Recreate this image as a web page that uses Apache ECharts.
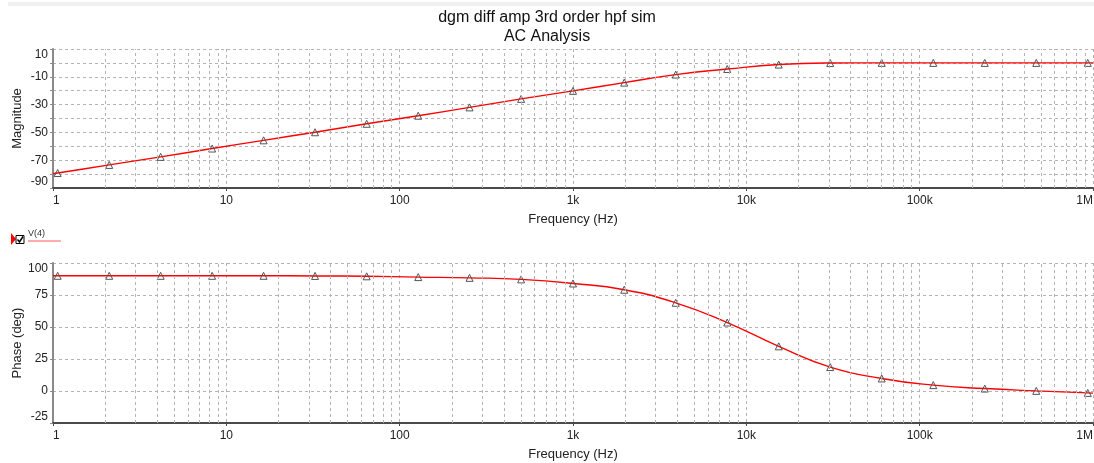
<!DOCTYPE html>
<html>
<head>
<meta charset="utf-8">
<title>dgm diff amp 3rd order hpf sim</title>
<script src="https://cdn.jsdelivr.net/npm/echarts@6/dist/echarts.min.js"></script>
<style>
  html, body { margin: 0; padding: 0; background: #fff; }
  #chart { width: 1094px; height: 463px; }
</style>
</head>
<body>
<div id="chart"></div>
<script>
// sweep points (first and last are the sweep ends, no marker)
var freqs = [1, 1.064, 2.11, 4.18, 8.28, 16.4, 32.5, 64.5, 128, 253, 502, 1000, 1975, 3914,
    7760, 15380, 30480, 60400, 119800, 237400, 470600, 932700, 1000000];
var magnitude = [-79.7, -79.2, -73.4, -67.6, -61.6, -55.7, -49.9, -43.8, -38.0, -32.0, -25.9,
    -20.1, -14.2, -8.4, -4.4, -1.2, -0.1, 0, 0, 0, 0, 0, 0];
var phase = [90, 90, 90, 90, 90, 90, 89.9, 89.6, 89.0, 88.4, 87.2, 84.0, 79.1, 68.9, 53.5,
    34.9, 18.7, 9.8, 4.6, 1.9, 0.1, -1.5, -1.7];

var freqTickLabels = { 1: '1', 10: '10', 100: '100', 1000: '1k', 10000: '10k', 100000: '100k', 1000000: '1M' };
var magTickLabels = [10, -10, -30, -50, -70, -90];
var phaseTickLabels = [100, 75, 50, 25, 0, -25];
var minorFreqs = [];
[1, 10, 100, 1000, 10000, 100000].forEach(function (d) {
    [2, 3, 4, 5, 6, 7, 8, 9].forEach(function (m) { minorFreqs.push(m * d); });
});

var FONT = 'Liberation Sans, Arial, sans-serif';
var gridLine = { show: true, lineStyle: { color: '#b4b4b4', type: [3, 3], width: 1 } };

function curve(values) {
    return freqs.map(function (f, i) {
        var item = { value: [f, values[i]] };
        if (i === 0 || i === freqs.length - 1) item.symbol = 'none';
        return item;
    });
}

function xAxis(idx) {
    return {
        type: 'log', gridIndex: idx, logBase: 10, min: 1, max: 1000000, splitNumber: 6,
        name: 'Frequency (Hz)', nameLocation: 'middle', nameGap: 25, nameMoveOverlap: false,
        nameTextStyle: { fontFamily: FONT, fontSize: 13, color: '#222' },
        axisLine: { onZero: false, lineStyle: { color: '#4a4a4a', width: 2 } },
        axisTick: { show: true, length: 3, lineStyle: { color: '#4a4a4a' } },
        axisLabel: {
            fontFamily: FONT, fontSize: 12, color: '#222', margin: 7,
            alignMinLabel: 'left', alignMaxLabel: 'right',
            formatter: function (v) { return freqTickLabels[Math.round(v)] || ''; }
        },
        splitLine: gridLine
    };
}

function yAxis(idx, name, min, max, step, labels) {
    return {
        type: 'value', gridIndex: idx, min: min, max: max, interval: step,
        name: name, nameLocation: 'middle', nameGap: 29, nameRotate: 90, nameMoveOverlap: false,
        nameTextStyle: { fontFamily: FONT, fontSize: 13, color: '#222' },
        axisLine: { show: true, onZero: false, lineStyle: { color: '#8a8a8a', width: 2 } },
        axisTick: { show: true, length: 3, lineStyle: { color: '#8a8a8a' } },
        axisLabel: {
            fontFamily: FONT, fontSize: 12, color: '#222', margin: 5,
            verticalAlignMaxLabel: 'top', verticalAlignMinLabel: 'bottom',
            formatter: function (v) { return labels.indexOf(v) >= 0 ? String(v) : ''; }
        },
        splitLine: gridLine
    };
}

function traceSeries(idx, values) {
    return {
        type: 'line', xAxisIndex: idx, yAxisIndex: idx, data: curve(values),
        smooth: 0.5, showAllSymbol: true,
        symbol: 'triangle', symbolSize: 7, z: 3,
        lineStyle: { color: '#ff0000', width: 1.4 },
        itemStyle: { color: 'rgba(255,255,255,0)', borderColor: '#555', borderWidth: 1 },
        emphasis: { disabled: true }
    };
}

function minorGridSeries(idx) {
    return {
        type: 'line', xAxisIndex: idx, yAxisIndex: idx, data: [], z: 1, silent: true,
        markLine: {
            silent: true, symbol: 'none', animation: false,
            label: { show: false },
            lineStyle: { color: '#b4b4b4', type: [3, 3], width: 1 },
            emphasis: { disabled: true },
            data: minorFreqs.map(function (f) { return { xAxis: f }; })
        }
    };
}

var chart = echarts.init(document.getElementById('chart'), null, { renderer: 'canvas' });
chart.setOption({
    animation: false,
    backgroundColor: '#fff',
    title: {
        text: 'dgm diff amp 3rd order hpf sim\nAC Analysis',
        left: 'center', top: 3,
        textStyle: { fontFamily: FONT, fontSize: 16, fontWeight: 'normal', color: '#111', lineHeight: 19 }
    },
    grid: [
        { left: 53, right: 1, top: 49, height: 139, outerBoundsMode: 'none' },
        { left: 53, right: 1, top: 263, height: 160, outerBoundsMode: 'none' }
    ],
    xAxis: [xAxis(0), xAxis(1)],
    yAxis: [
        yAxis(0, 'Magnitude', -90, 10, 10, magTickLabels),
        yAxis(1, 'Phase (deg)', -25, 100, 25, phaseTickLabels)
    ],
    series: [
        minorGridSeries(0),
        minorGridSeries(1),
        traceSeries(0, magnitude),
        traceSeries(1, phase)
    ],
    graphic: [
        { type: 'rect', shape: { x: 8, y: 2, width: 1086, height: 4 }, style: { fill: '#f0f0f0' }, silent: true },
        { type: 'polygon', shape: { points: [[11, 233], [16, 239], [11, 245]] }, style: { fill: '#ff0000' }, silent: true },
        { type: 'rect', shape: { x: 16, y: 235.5, width: 8, height: 8 }, style: { fill: '#fff', stroke: '#000', lineWidth: 1 }, silent: true },
        { type: 'polyline', shape: { points: [[17.5, 239.5], [19.5, 242], [23, 236.5]] }, style: { stroke: '#000', lineWidth: 1.5, fill: null }, silent: true },
        { type: 'text', left: 28, top: 229, style: { text: 'V(4)', font: '9px ' + FONT, fill: '#333' }, silent: true },
        { type: 'line', shape: { x1: 28, y1: 241, x2: 61, y2: 241 }, style: { stroke: '#ff5a5a', lineWidth: 1 }, silent: true }
    ]
});
</script>
</body>
</html>
